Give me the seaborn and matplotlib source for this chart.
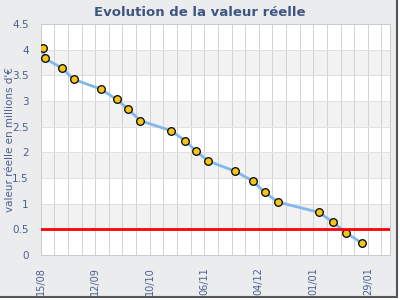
import matplotlib
matplotlib.use("Agg")
import matplotlib.pyplot as plt
import seaborn as sns
import numpy as np
import pandas as pd
from matplotlib.patches import Rectangle
from matplotlib.lines import Line2D

# data (days since 15/08)
days = [1, 2, 11, 17, 31, 39, 45, 51, 67, 74, 80, 86, 100, 109, 115, 122, 143, 150, 157, 165]
values = [4.03, 3.83, 3.64, 3.42, 3.23, 3.03, 2.84, 2.62, 2.42, 2.23, 2.02, 1.83,
          1.63, 1.44, 1.22, 1.03, 0.83, 0.64, 0.43, 0.23]
tick_days = [0, 28, 56, 84, 112, 140, 168]
tick_labels = ["15/08", "12/09", "10/10", "06/11", "04/12", "01/01", "29/01"]
threshold = 0.5
title = "Evolution de la valeur réelle"
ylabel = "valeur réelle en millions d'€"

sns.set_style("white")
plt.rcParams['font.family'] = ['DejaVu Sans']

fig = plt.figure(figsize=(4, 3), dpi=100, facecolor="white")
fig.patches.append(Rectangle((0, 3 / 300), 396 / 400, 297 / 300, transform=fig.transFigure,
                             facecolor="#EBECEE", edgecolor="none", zorder=-10))
fig.lines.append(Line2D([396.5 / 400, 396.5 / 400], [3 / 300, 1], transform=fig.transFigure,
                        color="#555555", lw=1.5))
fig.lines.append(Line2D([0, 396.5 / 400], [3 / 300, 3 / 300], transform=fig.transFigure,
                        color="#555555", lw=1.5))

ax = fig.add_axes([40.7 / 400, 45 / 300, (390 - 40.7) / 400, (255 - 24) / 300])
ax.set_facecolor("white")

xmax = 179.4

# alternating bands
for lo in [0.5, 1.5, 2.5, 3.5]:
    ax.axhspan(lo, lo + 0.5, facecolor="#F2F2F2", zorder=0.1, lw=0)

df = pd.DataFrame({"day": days, "value": values})
sns.lineplot(data=df, x="day", y="value", ax=ax, color="#80B8EC", lw=2, zorder=3)
sns.scatterplot(data=df, x="day", y="value", ax=ax, color="#F5C518", edgecolor="black",
                linewidth=0.9, s=30, zorder=4)
ax.axhline(threshold, color="#FF0000", lw=2, zorder=5)

ax.set_xlim(0, xmax)
ax.set_ylim(0, 4.5)

ax.vlines(np.arange(7, 180, 7), 0, 4.5, colors="#D2D2D2", linewidths=0.72, zorder=1,
          antialiased=False)
ax.hlines(np.arange(0.5, 4.5, 0.5), 0, xmax, colors="#E0E0E0", linewidths=0.72, zorder=1,
          antialiased=False)

for s in ax.spines.values():
    s.set_color("#CCCCCC")
    s.set_linewidth(0.72)
    s.set_antialiased(False)

tick_color = "#4A5F8C"
ax.set_xticks(tick_days)
ax.set_xticklabels(tick_labels, rotation=90, fontsize=7, color=tick_color)
yt = np.arange(0, 4.51, 0.5)
ax.set_yticks(yt)
ax.set_yticklabels([f"{v:g}" for v in yt], fontsize=7.5, color=tick_color)
ax.tick_params(axis="both", length=0)
ax.tick_params(axis="y", pad=8.5)
ax.tick_params(axis="x", pad=8.5)
ax.set_xlabel("")
ax.set_ylabel(ylabel, fontsize=7.5, color=tick_color)
ax.yaxis.set_label_coords(-(40.7 - 10) / 349.3, 0.5)
ax.yaxis.label.set_verticalalignment("center")

fig.text(0.5, 1 - 12.5 / 300, title, ha="center", va="center", fontsize=9.5,
         fontweight="bold", color="#3D5580")

fig.savefig("out.png", dpi=100, facecolor=fig.get_facecolor())
